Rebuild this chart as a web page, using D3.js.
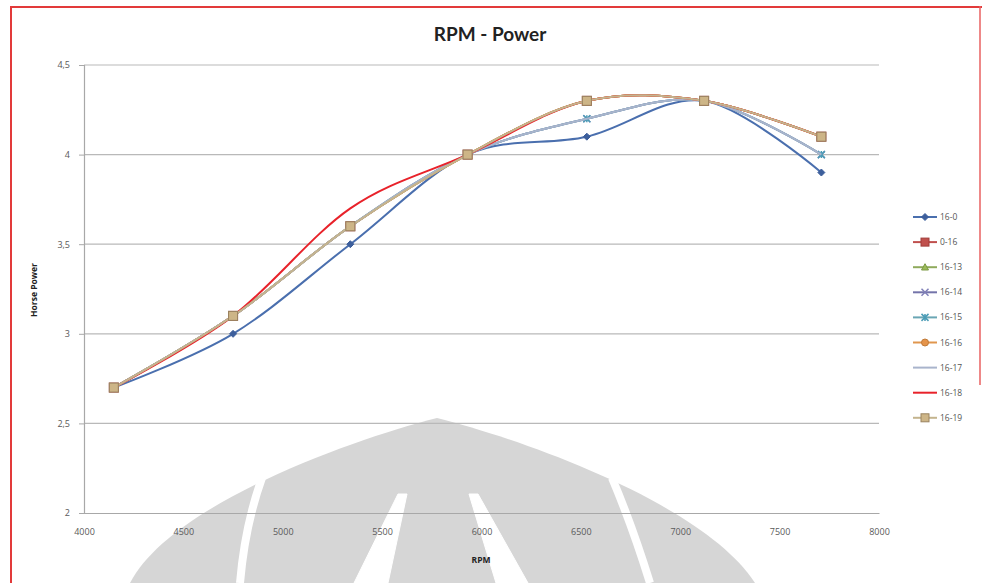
<!DOCTYPE html>
<html>
<head>
<meta charset="utf-8">
<script src="https://cdn.jsdelivr.net/npm/d3@7/dist/d3.min.js"></script>
<style>
  html, body { margin: 0; padding: 0; background: #fff; }
  svg { display: block; }
</style>
</head>
<body>
<svg id="chart" width="982" height="583"></svg>
<script>
// RPM measurement points
const rpm = [4150, 4750, 5340, 5930, 6530, 7120, 7710];

// Horse power per configuration
const s16_0  = [2.7, 3.0, 3.5, 4.0, 4.1, 4.3, 3.9];
const s0_16  = [2.7, 3.1, 3.6, 4.0, 4.3, 4.3, 4.1];
const s16_13 = [2.7, 3.1, 3.6, 4.0, 4.3, 4.3, 4.1];
const s16_14 = [2.7, 3.1, 3.6, 4.0, 4.2, 4.3, 4.0];
const s16_15 = [2.7, 3.1, 3.6, 4.0, 4.2, 4.3, 4.0];
const s16_16 = [2.7, 3.1, 3.6, 4.0, 4.3, 4.3, 4.1];
const s16_17 = [2.7, 3.1, 3.6, 4.0, 4.2, 4.3, 4.0];
const s16_18 = [2.7, 3.1, 3.7, 4.0, 4.3, 4.3, 4.1];
const s16_19 = [2.7, 3.1, 3.6, 4.0, 4.3, 4.3, 4.1];

const seriesNames = ["16-0", "0-16", "16-13", "16-14", "16-15", "16-16", "16-17", "16-18", "16-19"];
const seriesValues = [s16_0, s0_16, s16_13, s16_14, s16_15, s16_16, s16_17, s16_18, s16_19];

const xTicks = [4000, 4500, 5000, 5500, 6000, 6500, 7000, 7500, 8000];
const yTicks = [2, 2.5, 3, 3.5, 4, 4.5];
const yTickLabels = ["2", "2,5", "3", "3,5", "4", "4,5"];

// Line colour, marker type, marker fill / stroke
const styles = [
  { line: "#4a6fae", marker: "diamond",  fill: "#3d5f9c", stroke: "#3d5f9c" },
  { line: "#c0504d", marker: "square",   fill: "#c0504d", stroke: "#a03c3a" },
  { line: "#8faa5c", marker: "triangle", fill: "#9bbb59", stroke: "#7d9a45" },
  { line: "#7474aa", marker: "x",        fill: "none",    stroke: "#8080b8" },
  { line: "#6aa6b4", marker: "asterisk", fill: "none",    stroke: "#4b9cb6" },
  { line: "#e0964e", marker: "circle",   fill: "#e5944a", stroke: "#c07a38" },
  { line: "#a9b4cc", marker: "none",     fill: "none",    stroke: "none" },
  { line: "#e8222a", marker: "none",     fill: "none",    stroke: "none" },
  { line: "#c4b48e", marker: "square",   fill: "#cdb587", stroke: "#9a8360" }
];

const svg = d3.select("#chart");
const W = 982, H = 583;

svg.append("rect").attr("width", W).attr("height", H).attr("fill", "#fff");

// faint emblem printed behind the lower part of the page
const mark = svg.append("g");
mark.append("path")
  .attr("d", "M130,583 C170,505 350,440 437,418 C525,440 705,505 755,583 Z")
  .attr("fill", "#d6d6d6");
const gaps = mark.append("g").attr("fill", "#fff").attr("stroke", "#fff");
gaps.append("path").attr("d", "M262,478 Q245,525 240,583").attr("fill", "none").attr("stroke-width", 8);
gaps.append("path").attr("d", "M612,478 Q632,525 650,583").attr("fill", "none").attr("stroke-width", 8);
gaps.append("path").attr("d", "M398,494 L407,494 L388,583 L354,583 Z");
gaps.append("path").attr("d", "M469,494 L478,494 L528,583 L496,583 Z");

const x = d3.scaleLinear().domain([4000, 8000]).range([84, 879]);
const y = d3.scaleLinear().domain([2, 4.5]).range([513, 65]);

// gridlines
svg.append("g")
  .selectAll("line")
  .data(yTicks.slice(1))
  .join("line")
  .attr("x1", x(4000)).attr("x2", x(8000))
  .attr("y1", d => y(d)).attr("y2", d => y(d))
  .attr("stroke", "#b9b9b9").attr("stroke-width", 1.2);

// axes
const yAxis = d3.axisLeft(y)
  .tickValues(yTicks)
  .tickFormat((d, i) => yTickLabels[i])
  .tickSize(5).tickPadding(9);
const gy = svg.append("g").attr("transform", `translate(${x(4000)},0)`).call(yAxis);

const xAxis = d3.axisBottom(x)
  .tickValues(xTicks)
  .tickFormat(d3.format("d"))
  .tickSize(0).tickPadding(16);
const gx = svg.append("g").attr("transform", `translate(0,${y(2)})`).call(xAxis);

[gx, gy].forEach(g => {
  g.select(".domain").attr("stroke", "#a8a8a8").attr("stroke-width", 1.2);
  g.selectAll(".tick line").attr("stroke", "#a8a8a8");
  g.selectAll(".tick text")
    .attr("font-family", "'Open Sans', sans-serif")
    .attr("font-size", 9)
    .attr("fill", "#5a5a5a");
});

// smooth lines
const line = d3.line()
  .x((d, i) => x(rpm[i]))
  .y(d => y(d))
  .curve(d3.curveCardinal.tension(0));

function drawMarker(g, type, cx, cy, st, size) {
  const s = size;
  if (type === "diamond") {
    g.append("path")
      .attr("d", `M${cx},${cy - s}L${cx + s},${cy}L${cx},${cy + s}L${cx - s},${cy}Z`)
      .attr("fill", st.fill).attr("stroke", st.stroke);
  } else if (type === "square") {
    g.append("rect")
      .attr("x", cx - s).attr("y", cy - s).attr("width", 2 * s).attr("height", 2 * s)
      .attr("fill", st.fill).attr("stroke", st.stroke).attr("stroke-width", 1);
  } else if (type === "triangle") {
    g.append("path")
      .attr("d", `M${cx},${cy - s}L${cx + s},${cy + s * 0.8}L${cx - s},${cy + s * 0.8}Z`)
      .attr("fill", st.fill).attr("stroke", st.stroke);
  } else if (type === "x") {
    g.append("path")
      .attr("d", `M${cx - s},${cy - s}L${cx + s},${cy + s}M${cx - s},${cy + s}L${cx + s},${cy - s}`)
      .attr("stroke", st.stroke).attr("stroke-width", 1.5);
  } else if (type === "asterisk") {
    g.append("path")
      .attr("d", `M${cx - s},${cy - s}L${cx + s},${cy + s}M${cx - s},${cy + s}L${cx + s},${cy - s}M${cx},${cy - s}L${cx},${cy + s}`)
      .attr("stroke", st.stroke).attr("stroke-width", 1.5);
  } else if (type === "circle") {
    g.append("circle").attr("cx", cx).attr("cy", cy).attr("r", s)
      .attr("fill", st.fill).attr("stroke", st.stroke);
  }
}

const plot = svg.append("g");
seriesValues.forEach((vals, k) => {
  const st = styles[k];
  const g = plot.append("g");
  g.append("path")
    .attr("d", line(vals))
    .attr("fill", "none")
    .attr("stroke", st.line)
    .attr("stroke-width", 2);
  if (st.marker !== "none") {
    vals.forEach((v, i) => drawMarker(g, st.marker, x(rpm[i]), y(v), st, st.marker === "square" ? 4.5 : 3.5));
  }
});

// title and axis titles
svg.append("text")
  .attr("x", 490).attr("y", 41)
  .attr("text-anchor", "middle")
  .attr("font-family", "Lato, sans-serif")
  .attr("font-weight", "bold")
  .attr("font-size", 19)
  .attr("fill", "#222")
  .text("RPM - Power");

svg.append("text")
  .attr("transform", "translate(37,290) rotate(-90)")
  .attr("text-anchor", "middle")
  .attr("font-family", "'Open Sans', sans-serif")
  .attr("font-weight", "bold")
  .attr("font-size", 8.5)
  .attr("fill", "#222")
  .text("Horse Power");

svg.append("text")
  .attr("x", 481).attr("y", 563)
  .attr("text-anchor", "middle")
  .attr("font-family", "'Open Sans', sans-serif")
  .attr("font-weight", "bold")
  .attr("font-size", 8.5)
  .attr("fill", "#222")
  .text("RPM");

// legend
const legend = svg.append("g");
seriesNames.forEach((name, k) => {
  const st = styles[k];
  const ly = 217 + k * 25.1;
  const g = legend.append("g");
  g.append("line")
    .attr("x1", 913).attr("x2", 937).attr("y1", ly).attr("y2", ly)
    .attr("stroke", st.line).attr("stroke-width", 2);
  if (st.marker !== "none") drawMarker(g, st.marker, 925, ly, st, st.marker === "square" ? 4 : 3.5);
  g.append("text")
    .attr("x", 940).attr("y", ly + 3)
    .attr("font-family", "'Open Sans', sans-serif")
    .attr("font-size", 8.5)
    .attr("fill", "#555")
    .text(name);
});

// page frame
svg.append("line").attr("x1", 10).attr("x2", 982).attr("y1", 7).attr("y2", 7)
  .attr("stroke", "#e23a3a").attr("stroke-width", 2);
svg.append("line").attr("x1", 11).attr("x2", 11).attr("y1", 6).attr("y2", 583)
  .attr("stroke", "#e23a3a").attr("stroke-width", 2);
svg.append("line").attr("x1", 980).attr("x2", 980).attr("y1", 6).attr("y2", 385)
  .attr("stroke", "#e86060").attr("stroke-width", 1.5);
</script>
</body>
</html>
